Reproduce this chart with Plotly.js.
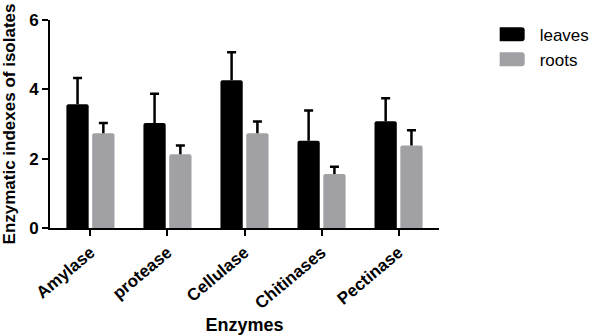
<!DOCTYPE html>
<html>
<head>
<meta charset="utf-8">
<script src="https://cdn.plot.ly/plotly-3.0.1.min.js"></script>
<style>html,body{margin:0;padding:0;background:#fff;}#chart{width:600px;height:335px;}</style>
</head>
<body>
<div id="chart"></div>
<script>
const categories = ['Amylase', 'protease', 'Cellulase', 'Chitinases', 'Pectinase'];
const leaves = [3.57, 3.03, 4.26, 2.52, 3.08];
const leavesErr = [0.76, 0.84, 0.81, 0.87, 0.66];
const roots = [2.73, 2.13, 2.73, 1.56, 2.38];
const rootsErr = [0.30, 0.25, 0.34, 0.21, 0.44];
const yTicks = [0, 2, 4, 6];

const FONT = 'Liberation Sans, Arial, Helvetica, sans-serif';
const zeros = categories.map(() => 0);

function errCfg(arr) {
  return {type: 'data', symmetric: false, array: arr, arrayminus: zeros,
          color: '#000', thickness: 2.5, width: 4.5, visible: true};
}

const traces = [
  {type: 'bar', name: 'leaves', x: categories, y: leaves,
   marker: {color: '#000000', line: {width: 0}, cornerradius: 2},
   error_y: errCfg(leavesErr)},
  {type: 'bar', name: 'roots', x: categories, y: roots,
   marker: {color: '#a1a1a5', line: {width: 0}, cornerradius: 2},
   error_y: errCfg(rootsErr)}
];

const layout = {
  width: 600, height: 335,
  margin: {l: 50, r: 161, t: 20, b: 107, pad: 0, autoexpand: false},
  paper_bgcolor: '#fff', plot_bgcolor: '#fff',
  barmode: 'group', bargap: 0.33, bargroupgap: 0.137,
  font: {family: FONT, color: '#000'},
  showlegend: true,
  legend: {x: 1.156, xanchor: 'left', y: 1.016, yanchor: 'top',
           font: {family: FONT, size: 17, color: '#000'},
           bgcolor: 'rgba(0,0,0,0)', borderwidth: 0, tracegroupgap: 0},
  xaxis: {
    type: 'category', range: [-0.525, 4.525], automargin: false,
    showline: true, linecolor: '#000', linewidth: 2,
    ticks: 'outside', ticklen: 6, tickwidth: 2, tickcolor: '#000',
    tickangle: -40, showgrid: false, zeroline: false,
    tickfont: {family: FONT, size: 17, weight: 'bold', color: '#000'},
    title: {text: 'Enzymes', standoff: 11,
            font: {family: FONT, size: 18, weight: 'bold', color: '#000'}}
  },
  yaxis: {
    range: [0, 6], tickvals: yTicks, ticktext: yTicks.map(String), automargin: false,
    showline: true, linecolor: '#000', linewidth: 2,
    ticks: 'outside', ticklen: 6, tickwidth: 2, tickcolor: '#000',
    showgrid: false, zeroline: false,
    tickfont: {family: FONT, size: 17, weight: 'bold', color: '#000'},
    title: {text: 'Enzymatic indexes of isolates',
            font: {family: FONT, size: 17, weight: 'bold', color: '#000'}}
  }
};

function tidy() {
  // one-sided (upward) error bars: drop the lower cap
  document.querySelectorAll('#chart .errorbar path').forEach(p => {
    const d = p.getAttribute('d') || '';
    const i = d.lastIndexOf('m');
    const v = d.lastIndexOf('V');
    if (i > v && v > 0) p.setAttribute('d', d.slice(0, i));
  });
  // wider rounded legend swatches
  document.querySelectorAll('#chart .legend .legendpoints path').forEach(p => {
    p.setAttribute('d', 'M-23,-7H2A3,3 0 0 1 5,-4V4A3,3 0 0 1 2,7H-23A3,3 0 0 1 -26,4V-4A3,3 0 0 1 -23,-7Z');
    p.style.strokeWidth = '0';
  });
}

Plotly.newPlot('chart', traces, layout, {displayModeBar: false, staticPlot: true}).then(gd => {
  tidy();
  gd.on('plotly_afterplot', tidy);
});
</script>
</body>
</html>
